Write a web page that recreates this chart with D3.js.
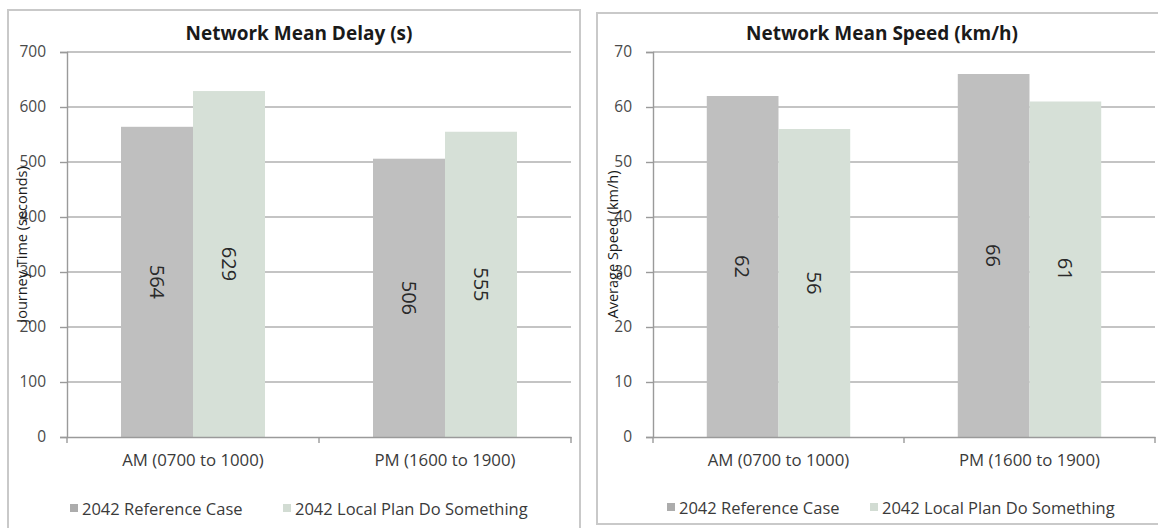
<!DOCTYPE html>
<html>
<head>
<meta charset="utf-8">
<script src="https://cdn.jsdelivr.net/npm/d3@7"></script>
<style>
  html, body { margin: 0; padding: 0; background: #ffffff; }
  svg { display: block; }
  text { font-family: "Open Sans", Lato, sans-serif; }
</style>
</head>
<body>
<svg id="chart" width="1158" height="528"></svg>
<script>
// Time periods shown on both charts
const periods = ["AM (0700 to 1000)", "PM (1600 to 1900)"];
// Scenario names (legend order)
const scenarios = ["2042 Reference Case", "2042 Local Plan Do Something"];

// Network mean delay, seconds, per period: [reference, do something]
const delayReference = [564, 506];
const delayDoSomething = [629, 555];
const delayTicks = [0, 100, 200, 300, 400, 500, 600, 700];

// Network mean speed, km/h, per period: [reference, do something]
const speedReference = [62, 66];
const speedDoSomething = [56, 61];
const speedTicks = [0, 10, 20, 30, 40, 50, 60, 70];

const seriesColors = ["#bfbfbf", "#d6e0d7"];
const FONT = "'Open Sans', Lato, sans-serif";

const svg = d3.select("#chart");

function drawPanel(cfg) {
  const g = svg.append("g");

  // chart area frame
  g.append("rect")
    .attr("x", cfg.frame[0]).attr("y", cfg.frame[1])
    .attr("width", cfg.frame[2]).attr("height", cfg.frame[3])
    .attr("fill", "#ffffff").attr("stroke", "#c9c9c9").attr("stroke-width", 2);

  const y = d3.scaleLinear().domain([0, d3.max(cfg.ticks)]).range([cfg.y0, cfg.yTop]);
  const x = d3.scaleBand().domain(periods).range([cfg.x0, cfg.x1]).padding(0);
  const xs = d3.scaleBand().domain(scenarios).range([0, x.bandwidth()])
    .paddingInner(0).paddingOuter(0.75);

  // horizontal gridlines
  g.append("g").selectAll("line").data(cfg.ticks.filter(t => t > 0)).join("line")
    .attr("x1", cfg.x0).attr("x2", cfg.x1)
    .attr("y1", d => y(d)).attr("y2", d => y(d))
    .attr("stroke", "#b0b0b0").attr("stroke-width", 1.4);

  // bars
  const rows = periods.map((p, i) => ({ period: p, values: [cfg.ref[i], cfg.ds[i]] }));
  const groups = g.append("g").selectAll("g").data(rows).join("g")
    .attr("transform", d => `translate(${x(d.period)},0)`);

  groups.selectAll("rect").data(d => d.values.map((v, k) => ({ k, v }))).join("rect")
    .attr("x", d => xs(scenarios[d.k]))
    .attr("width", xs.bandwidth())
    .attr("y", d => y(d.v))
    .attr("height", d => y(0) - y(d.v))
    .attr("fill", d => seriesColors[d.k]);

  // value labels, rotated, centred in each bar
  groups.selectAll("text").data(d => d.values.map((v, k) => ({ k, v }))).join("text")
    .attr("transform", d => {
      const cx = xs(scenarios[d.k]) + xs.bandwidth() / 2;
      const cy = (y(d.v) + y(0)) / 2;
      return `translate(${cx},${cy}) rotate(90)`;
    })
    .attr("text-anchor", "middle")
    .attr("dominant-baseline", "central")
    .attr("font-size", 20)
    .attr("fill", "#2a2a2a")
    .text(d => d3.format(".0f")(d.v));

  // y axis
  const yAxis = g.append("g").attr("transform", `translate(${cfg.x0},0)`)
    .call(d3.axisLeft(y).tickValues(cfg.ticks).tickSize(7).tickPadding(14).tickFormat(d3.format("d")));
  yAxis.select(".domain").attr("stroke", "#9a9a9a").attr("stroke-width", 1.4);
  yAxis.selectAll(".tick line").attr("stroke", "#9a9a9a").attr("stroke-width", 1.4);
  yAxis.selectAll(".tick text").attr("font-size", 15.5).attr("fill", "#4a4a4a")
    .attr("font-family", FONT);

  // x axis
  const xAxis = g.append("g").attr("transform", `translate(0,${cfg.y0})`)
    .call(d3.axisBottom(x).tickSize(0).tickPadding(17));
  xAxis.select(".domain").attr("stroke", "#9a9a9a").attr("stroke-width", 1.4);
  xAxis.selectAll(".tick text").attr("font-size", 16.8).attr("fill", "#3a3a3a")
    .attr("font-family", FONT);
  // category boundary ticks
  xAxis.append("g").selectAll("line").data([cfg.x0, cfg.x0 + x.step(), cfg.x1]).join("line")
    .attr("x1", d => d).attr("x2", d => d).attr("y1", 0).attr("y2", 6)
    .attr("stroke", "#9a9a9a").attr("stroke-width", 1.4);

  // title
  g.append("text")
    .attr("x", cfg.titleX).attr("y", 40)
    .attr("text-anchor", "middle")
    .attr("font-size", 19).attr("font-weight", "bold").attr("fill", "#1a1a1a")
    .text(cfg.title);

  // y axis title
  g.append("text")
    .attr("transform", `translate(${cfg.yTitleX},${(cfg.y0 + cfg.yTop) / 2}) rotate(-90)`)
    .attr("text-anchor", "middle")
    .attr("dominant-baseline", "central")
    .attr("font-size", 14.5).attr("fill", "#1a1a1a")
    .text(cfg.yTitle);

  // legend
  const leg = g.append("g").selectAll("g").data(scenarios).join("g")
    .attr("transform", (d, i) => `translate(${cfg.legendX[i]},${cfg.legendY})`);
  leg.append("rect").attr("x", 0).attr("y", -4).attr("width", 8).attr("height", 8)
    .attr("fill", (d, i) => d3.color(seriesColors[i]).darker(i === 0 ? 0.3 : 0.05));
  leg.append("text").attr("x", 12).attr("y", 0)
    .attr("dominant-baseline", "central")
    .attr("font-size", 16.5).attr("fill", "#3a3a3a")
    .text(d => d);
}

drawPanel({
  frame: [8, 10, 572, 530],
  x0: 67, x1: 571, y0: 437, yTop: 52,
  ticks: delayTicks, ref: delayReference, ds: delayDoSomething,
  title: "Network Mean Delay (s)", titleX: 299,
  yTitle: "Journey Time (seconds)", yTitleX: 21,
  legendX: [70, 283], legendY: 508
});

drawPanel({
  frame: [597, 13, 575, 511],
  x0: 653, x1: 1155, y0: 437, yTop: 52,
  ticks: speedTicks, ref: speedReference, ds: speedDoSomething,
  title: "Network Mean Speed (km/h)", titleX: 882,
  yTitle: "Average Speed (km/h)", yTitleX: 612,
  legendX: [667, 870], legendY: 507
});
</script>
</body>
</html>
